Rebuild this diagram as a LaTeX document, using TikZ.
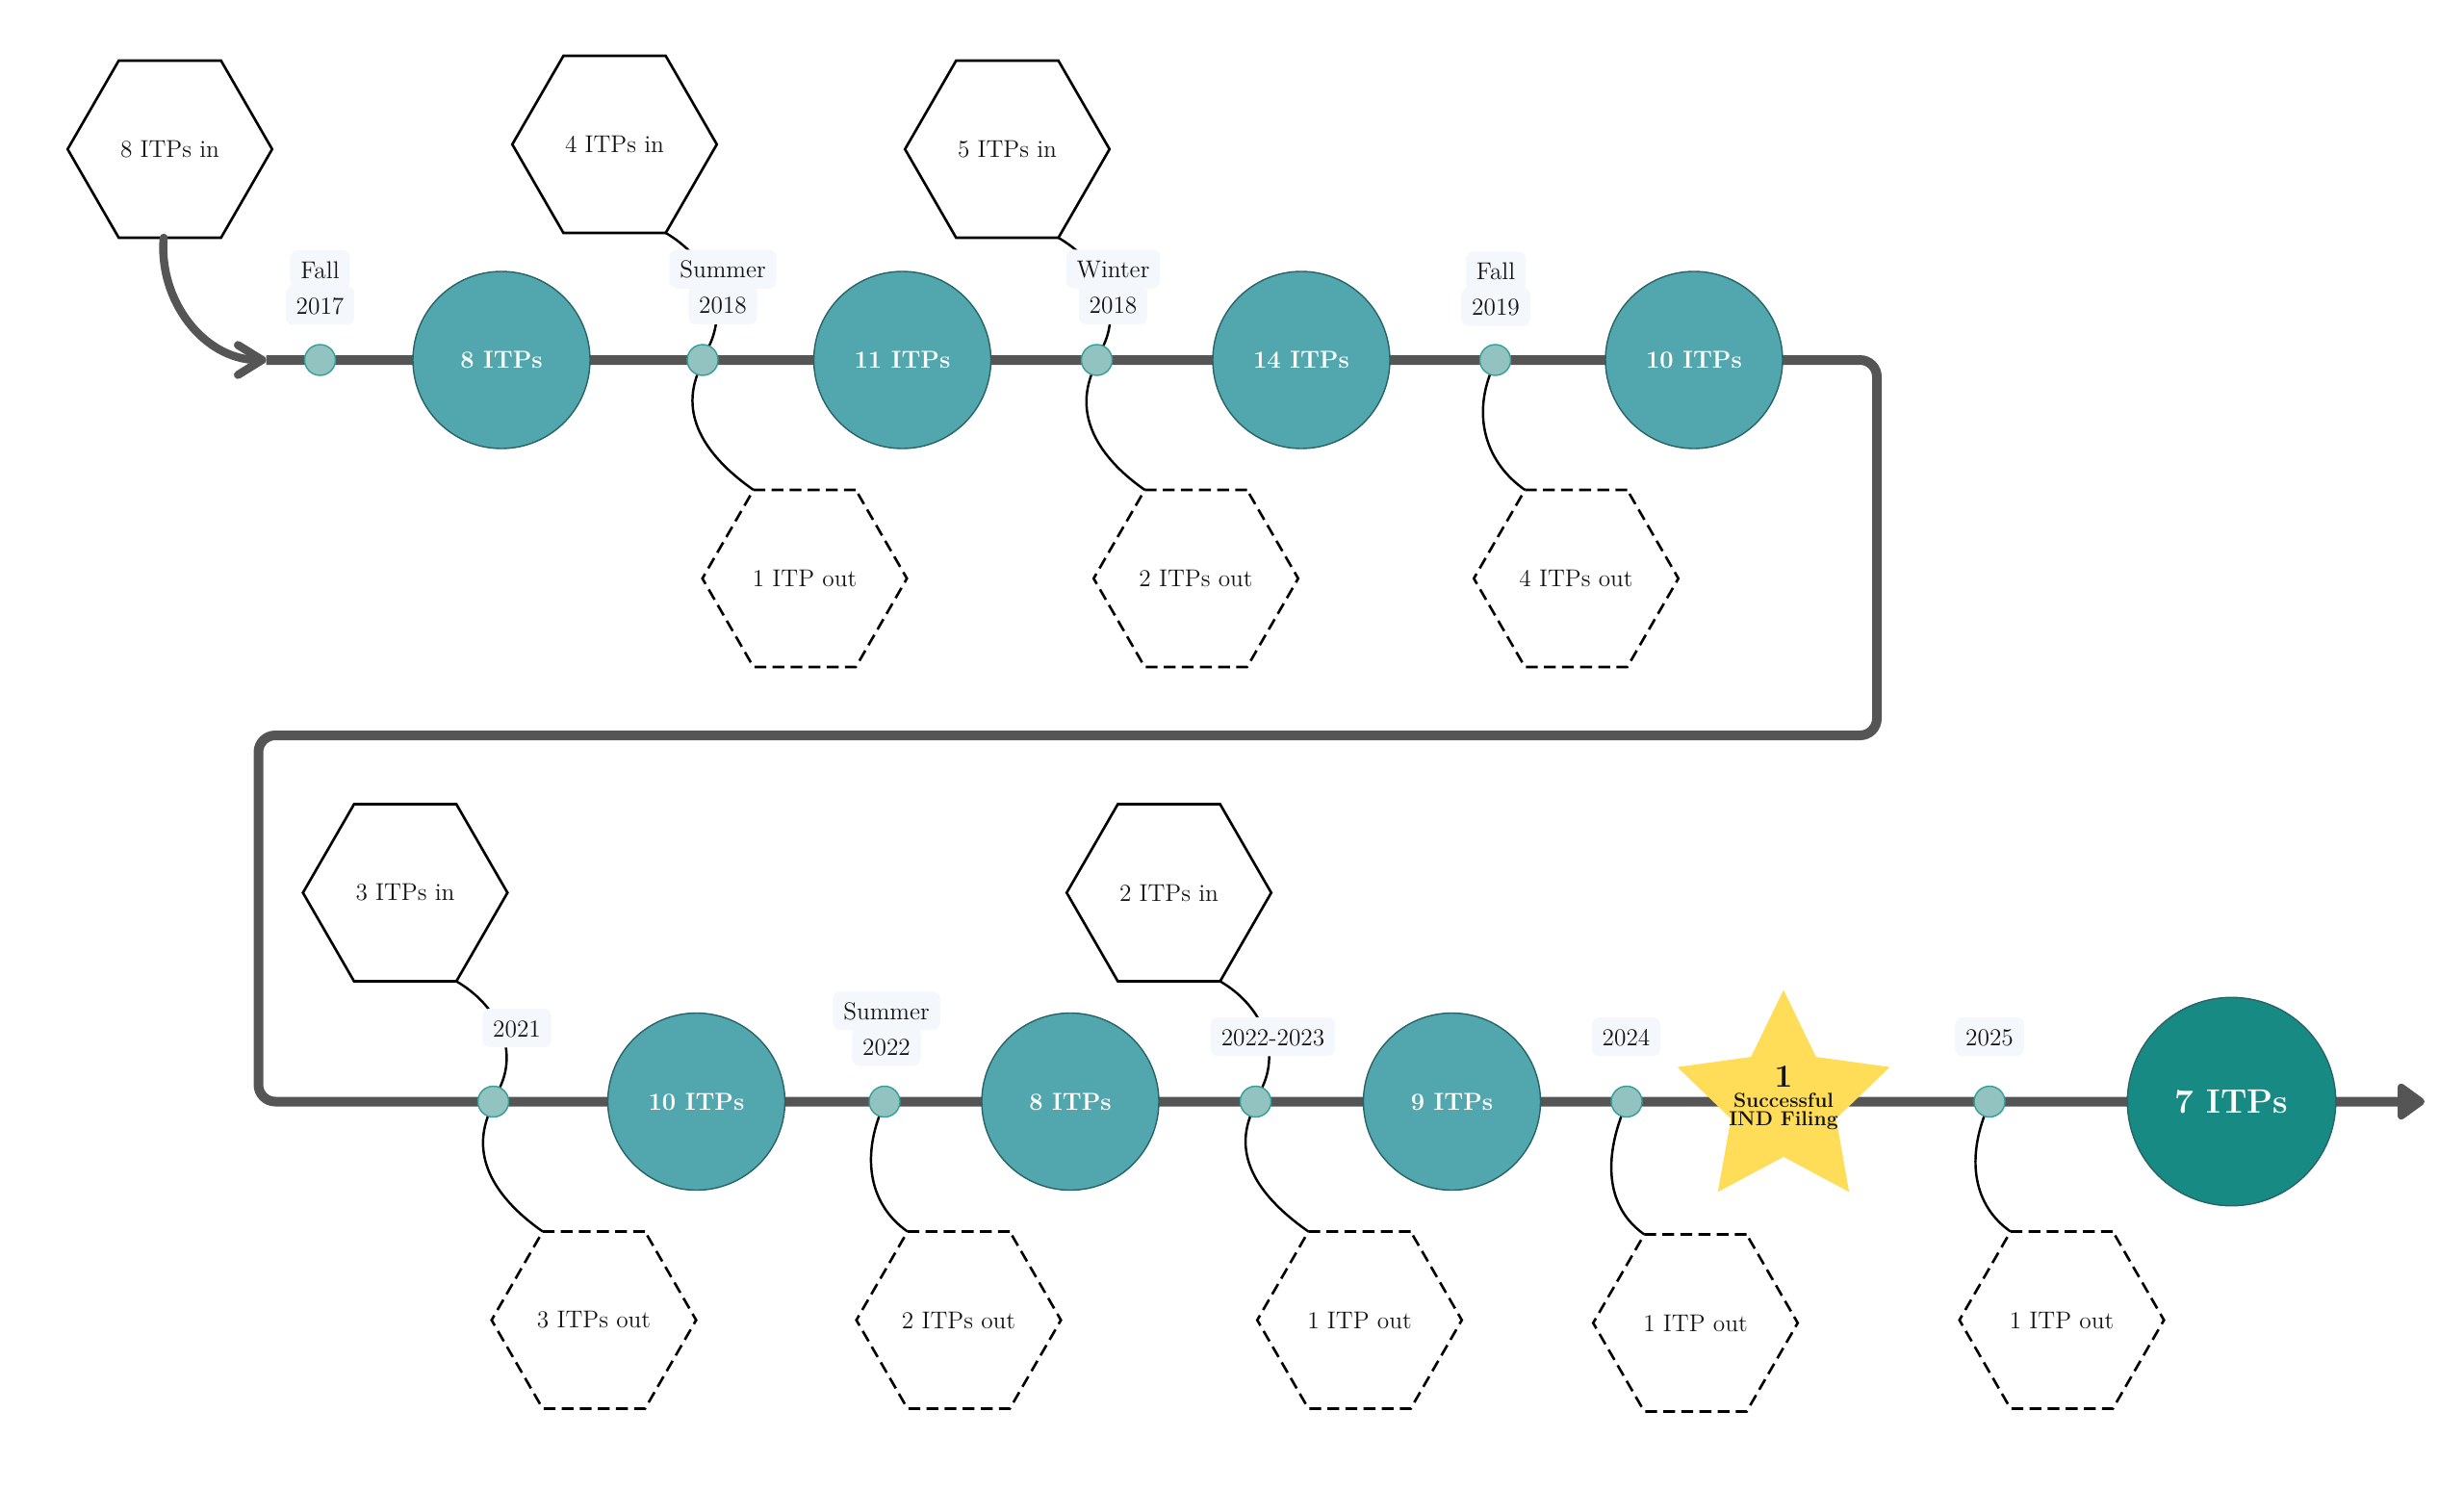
\documentclass[tikz,border=0pt]{standalone}
\usepackage{tikz}
\usetikzlibrary{arrows.meta, positioning, shapes.geometric, backgrounds}
\definecolor{trackc}{RGB}{85,85,85}
\definecolor{stagec}{RGB}{82,166,173}
\definecolor{stageline}{RGB}{38,100,104}
\definecolor{finalc}{RGB}{24,138,132}
\definecolor{dotc}{RGB}{147,195,192}
\definecolor{dotline}{RGB}{52,158,152}
\definecolor{starc}{RGB}{255,221,89}
\definecolor{boxc}{RGB}{244,248,252}
\definecolor{inkc}{RGB}{20,20,20}
\tikzset{
  hexin/.style={
    regular polygon, regular polygon sides=6,
    draw=black, line width=1.5pt, minimum size=4.25cm,
    inner sep=0pt, outer sep=0pt, font=\Large, text=inkc
  },
  hexout/.style={hexin, dash pattern=on 7pt off 3.7pt},
  stage/.style={circle, fill=stagec, draw=stageline, line width=0.8pt,
                minimum size=3.68cm, inner sep=0pt, text=white,
                font=\fontsize{14.5}{16}\selectfont\bfseries},
  final/.style={stage, fill=finalc, minimum size=4.33cm,
                font=\fontsize{20}{24}\selectfont\bfseries},
  dot/.style={circle, fill=dotc, draw=dotline, line width=0.8pt,
              minimum size=0.64cm, inner sep=0pt},
  goal/.style={star, star points=5, star point ratio=2.02, fill=starc,
               minimum size=4.64cm, inner sep=0pt},
  datebox/.style={rectangle, rounded corners=0.16cm, fill=boxc,
                  inner xsep=0.22cm, inner ysep=0pt, minimum height=0.81cm,
                  text height=0.36cm, text depth=0pt, font=\Large, text=inkc},
  track/.style={draw=trackc, line width=0.2cm, rounded corners=0.35cm},
  feed/.style={draw=trackc, line width=0.17cm, line cap=round,
               -{Straight Barb[length=0.5cm, width=0.62cm, round]}},
  link/.style={draw=black, line width=1.4pt},
}
% a two-line date, one box for each line
\newcommand{\when}[4]{%
  \node[datebox] (#1a) at (#2) {#3};
  \node[datebox, below=-0.08cm of #1a] (#1b) {#4};}

\begin{document}
\begin{tikzpicture}
  \useasboundingbox (0,0) rectangle (51.2,-30.94);

  % groups coming in
  \node[hexin] (in1) at (3.53,-3.10) {8 ITPs in};
  \node[hexin] (in2) at (12.77,-3.00) {4 ITPs in};
  \node[hexin] (in3) at (20.93,-3.10) {5 ITPs in};
  \node[hexin] (in4) at (8.42,-18.55) {3 ITPs in};
  \node[hexin] (in5) at (24.29,-18.55) {2 ITPs in};

  % groups going out
  \node[hexout] (out1) at (16.72,-12.02) {1 ITP out};
  \node[hexout] (out2) at (24.85,-12.02) {2 ITPs out};
  \node[hexout] (out3) at (32.75,-12.02) {4 ITPs out};
  \node[hexout] (out4) at (12.34,-27.43) {3 ITPs out};
  \node[hexout] (out5) at (19.92,-27.43) {2 ITPs out};
  \node[hexout] (out6) at (28.25,-27.43) {1 ITP out};
  \node[hexout] (out7) at (35.23,-27.49) {1 ITP out};
  \node[hexout] (out8) at (42.84,-27.43) {1 ITP out};

  % size of the portfolio
  \node[stage] (s1) at (10.42,-7.48) {8 ITPs};
  \node[stage] (s2) at (18.75,-7.48) {11 ITPs};
  \node[stage] (s3) at (27.04,-7.48) {14 ITPs};
  \node[stage] (s4) at (35.20,-7.48) {10 ITPs};
  \node[stage] (s5) at (14.47,-22.89) {10 ITPs};
  \node[stage] (s6) at (22.24,-22.89) {8 ITPs};
  \node[stage] (s7) at (30.17,-22.89) {9 ITPs};
  \node[final] (s8) at (46.37,-22.89) {7 ITPs};

  \node[goal] (ind) at (37.06,-22.89) {};
  \node[align=center, inner sep=0pt, text=inkc,
        font=\fontsize{12}{11}\selectfont\bfseries] (indtext) at (37.06,-22.81)
    {{\fontsize{19}{19}\selectfont 1}\\[1pt] Successful\\ IND Filing};

  % time points
  \node[dot] (d1) at (6.65,-7.48) {};
  \node[dot] (d2) at (14.60,-7.48) {};
  \node[dot] (d3) at (22.79,-7.48) {};
  \node[dot] (d4) at (31.07,-7.48) {};
  \node[dot] (d5) at (10.25,-22.89) {};
  \node[dot] (d6) at (18.38,-22.89) {};
  \node[dot] (d7) at (26.09,-22.89) {};
  \node[dot] (d8) at (33.80,-22.89) {};
  \node[dot] (d9) at (41.34,-22.89) {};

  % the track
  \coordinate (start) at (5.53,-7.48);
  \coordinate (turn1) at (39.0,-7.48);
  \coordinate (turn2) at (39.0,-15.28);
  \coordinate (turn3) at (5.37,-15.28);
  \coordinate (turn4) at (5.37,-22.89);
  \coordinate (finish) at (50.38,-22.89);
  \begin{scope}[on background layer]
    \draw[track, -{Triangle[length=0.62cm, width=0.85cm, round]}]
      (start) -- (turn1) -- (turn2) -- (turn3) -- (turn4) -- (finish);
  \end{scope}
  \draw[feed] (in1.266) to[out=-95, in=180] (start);

  \draw[link] (in2.300) to[out=-30, in=65] (d2);
  \draw[link] (in3.300) to[out=-30, in=65] (d3);
  \draw[link] (in4.300) to[out=-30, in=65] (d5);
  \draw[link] (in5.300) to[out=-30, in=65] (d7);

  \draw[link] (d2) to[out=-110, in=145] (out1.120);
  \draw[link] (d3) to[out=-110, in=145] (out2.120);
  \draw[link] (d4) to[out=-110, in=145] (out3.120);
  \draw[link] (d5) to[out=-110, in=145] (out4.120);
  \draw[link] (d6) to[out=-110, in=145] (out5.120);
  \draw[link] (d7) to[out=-110, in=145] (out6.120);
  \draw[link] (d8) to[out=-110, in=145] (out7.120);
  \draw[link] (d9) to[out=-110, in=145] (out8.120);

  % dates
  \when{t1}{6.65,-5.60}{Fall}{2017}
  \when{t2}{15.02,-5.59}{Summer}{2018}
  \when{t3}{23.13,-5.59}{Winter}{2018}
  \when{t4}{31.08,-5.63}{Fall}{2019}
  \node[datebox] (t5) at (10.74,-21.36) {2021};
  \when{t6}{18.42,-21.00}{Summer}{2022}
  \node[datebox] (t7) at (26.45,-21.54) {2022-2023};
  \node[datebox] (t8) at (33.79,-21.54) {2024};
  \node[datebox] (t9) at (41.34,-21.54) {2025};

\end{tikzpicture}
\end{document}
